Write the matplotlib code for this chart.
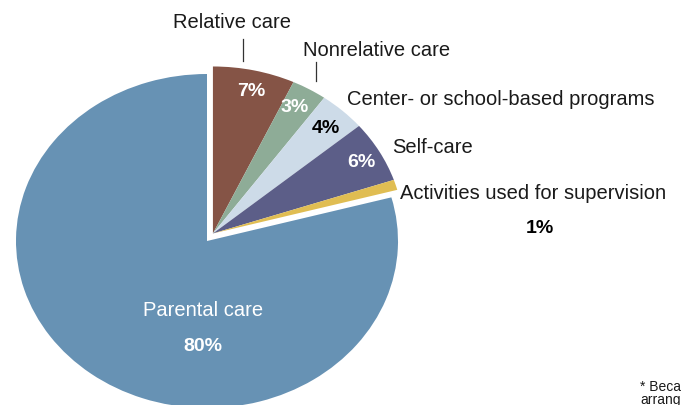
import matplotlib.pyplot as plt

plt.rcParams['font.family'] = ['Liberation Sans', 'DejaVu Sans']

# care arrangements, clockwise from 12 o'clock
categories = ["Relative care", "Nonrelative care", "Center- or school-based programs",
              "Self-care", "Activities used for supervision", "Parental care"]
shares = [7, 3, 4, 6, 1, 80]
colors = ["#855446", "#8eac97", "#cddbe8", "#5c5e88", "#e0bd52", "#6792b4"]
pct_colors = ["white", "white", "black", "white", "black", "white"]

W, H = 681, 406
fig = plt.figure(figsize=(W / 100, H / 100), dpi=100)
ax = fig.add_axes([0, 0, 1, 1])

wedges, _ = ax.pie(shares, colors=colors, startangle=90, counterclock=False,
                   radius=1, wedgeprops=dict(linewidth=0))

# pull the non-parental slices out together as one block
for w in wedges[:-1]:
    w.set_center((0.031, 0.045))

# stretched pie, blue centre near (207, 242) px
rx, ry = 191, 167
cx, cy = 207, 242
ax.set_aspect('auto')
ax.set_xlim(-cx / rx, (W - cx) / rx)
ax.set_ylim(-(H - cy) / ry, cy / ry)
ax.axis('off')


def px(x, y):
    return x / W, 1 - y / H


fs = 14.5
tc = "#1a1a1a"
# category names
fig.text(*px(173, 28), categories[0], fontsize=fs, color=tc, va='baseline')
fig.text(*px(303, 56), categories[1], fontsize=fs, color=tc, va='baseline')
fig.text(*px(347, 105), categories[2], fontsize=fs, color=tc, va='baseline')
fig.text(*px(392, 153), categories[3], fontsize=fs, color=tc, va='baseline')
fig.text(*px(400, 199), categories[4], fontsize=fs, color=tc, va='baseline')
fig.text(*px(203, 316), categories[5], fontsize=fs, color="white", va='baseline', ha='center')

# leader lines
for x0, y0, y1 in [(242.5, 40, 62), (316, 63, 82)]:
    fig.add_artist(plt.Line2D([x0 / W, x0 / W], [1 - y0 / H, 1 - y1 / H],
                              color="#333333", linewidth=0.9))

# percentages
pct_pos = [(251, 96), (295, 112), (326, 133), (361, 167), (540, 233), (203, 351)]
for v, (x, y), c in zip(shares, pct_pos, pct_colors):
    fig.text(*px(x, y), f"{v}%", fontsize=14, fontweight='bold', color=c,
             ha='center', va='baseline')

# footnote, runs off the right edge
fig.text(*px(640, 391), "* Because", fontsize=10, color=tc, va='baseline')
fig.text(*px(640, 404), "arrangements", fontsize=10, color=tc, va='baseline')

fig.savefig("out.png", dpi=100)
